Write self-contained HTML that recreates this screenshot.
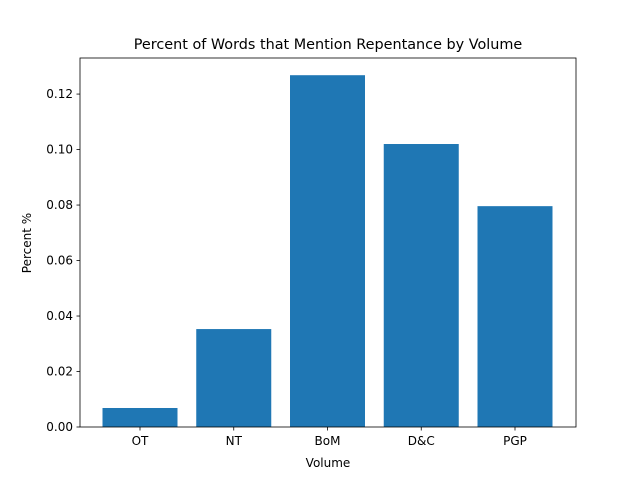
<!DOCTYPE html>
<html><head><meta charset="utf-8"><style>
body{margin:0;background:#fff}
svg text{font-family:"DejaVu Sans","Liberation Sans",sans-serif;fill:#000}
</style></head><body>
<svg id="chart" width="640" height="480">
<rect width="640" height="480" fill="#fff"/>
<text x="328" y="49" font-size="14.4" text-anchor="middle">Percent of Words that Mention Repentance by Volume</text>
<g id="bars"></g>
<g id="axes"></g>
<text x="328" y="467" font-size="12" text-anchor="middle">Volume</text>
<text transform="translate(31,243) rotate(-90)" font-size="12" text-anchor="middle">Percent %</text>
</svg>
<script>
const categories=["OT","NT","BoM","D&C","PGP"];
const values=[0.00685,0.0353,0.1268,0.102,0.0796];
const yTicks=[0,0.02,0.04,0.06,0.08,0.10,0.12];
const yTickLabels=["0.00","0.02","0.04","0.06","0.08","0.10","0.12"];
const L=80,R=576,T=58,B=427,yMax=0.133;
const ns="http://www.w3.org/2000/svg";
const step=93.75;
const xs=i=>140+i*step;
const bw=0.8*step;
const ys=v=>B-v/yMax*(B-T);
const bars=document.getElementById('bars'),axes=document.getElementById('axes');
function mk(t,a,p){const e=document.createElementNS(ns,t);for(const k in a)e.setAttribute(k,a[k]);p.appendChild(e);return e;}
values.forEach((v,i)=>{
 const r=mk('rect',{x:xs(i)-bw/2,y:ys(v),width:bw,height:B-ys(v),fill:'#1f77b4'},bars);
 
 
 mk('line',{x1:xs(i),x2:xs(i),y1:B,y2:B+3.5,stroke:'#000','stroke-width':0.8},axes);
 const t=mk('text',{x:xs(i),y:B+18,'font-size':12,'text-anchor':'middle'},axes);
 t.textContent=categories[i];
 
 
});
yTicks.forEach((v,i)=>{
 mk('line',{x1:L-3.5,x2:L,y1:ys(v),y2:ys(v),stroke:'#000','stroke-width':0.8},axes);
 const t=mk('text',{x:L-7,y:ys(v)+4,'font-size':12,'text-anchor':'end'},axes);
 t.textContent=yTickLabels[i];
 
 
});
const f=mk('rect',{x:L,y:T,width:R-L,height:B-T,fill:'none',stroke:'#000','stroke-width':0.8},axes);


</script>
</body></html>
